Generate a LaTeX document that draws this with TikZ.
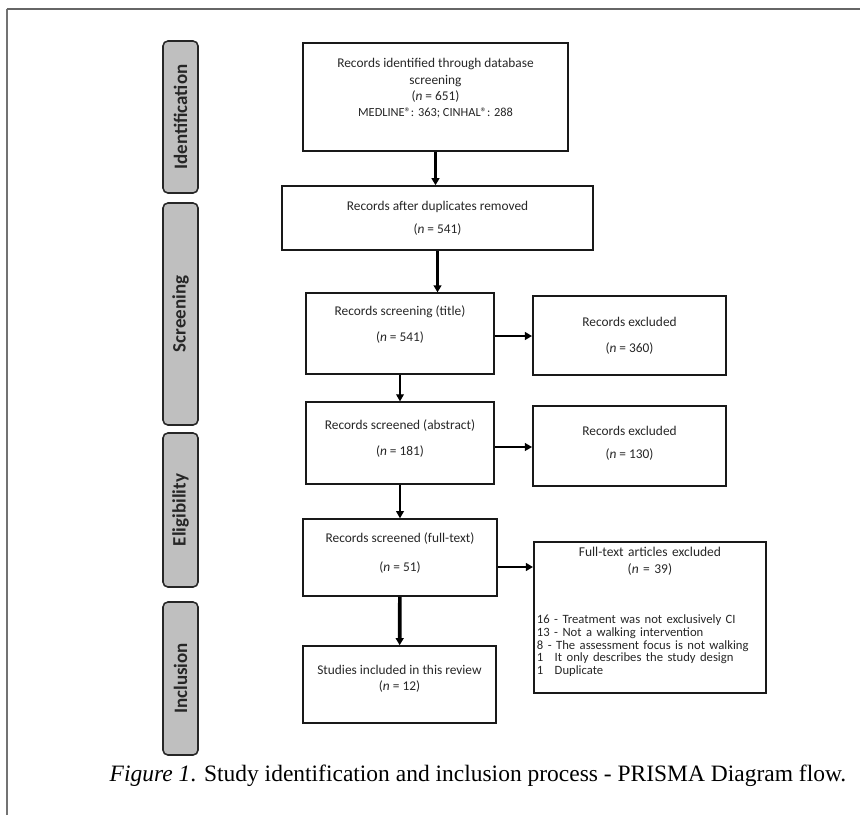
\documentclass[tikz,border=0pt]{standalone}
\usepackage{fontspec}
\setmainfont{Carlito}
\newfontfamily\capfont{Liberation Serif}
\usetikzlibrary{arrows.meta,calc}

\begin{document}
\begin{tikzpicture}[x=0.025cm,y=-0.025cm,
  box/.style={draw=black!90,line width=1.1pt,align=center,inner sep=2pt,text=black!85,font=\fontsize{9.5}{11.5}\selectfont},
  phase/.style={draw=black!85,line width=1.1pt,fill=black!25,rounded corners=3.5pt,rotate=90,
    minimum height=35*\pxunit,text=black!85,font=\bfseries\fontsize{13.5}{15}\selectfont},
  flow/.style={-{Triangle[length=5pt,width=5.5pt]},line width=1.4pt}]

\newcommand{\pxunit}{0.025cm}
\newcommand{\gapline}{\\[7pt]}

\useasboundingbox (0,0) rectangle (860,815);

% frame round the figure
\draw[black!55,line width=0.8pt] (7,815) -- (7,9);
\draw[black!60,line width=1.4pt] (6.5,9) -- (860,9);

% phases
\node[phase,minimum width=152*\pxunit] (identification) at (180.5,117) {Identification};
\node[phase,minimum width=222*\pxunit] (screening) at (180.5,314) {Screening};
\node[phase,minimum width=154*\pxunit] (eligibility) at (180.5,510) {Eligibility};
\node[phase,minimum width=153*\pxunit] (inclusion) at (180.5,678.5) {Inclusion};

% main column
\node[box,line width=0.9pt,minimum width=265*\pxunit,minimum height=108*\pxunit] (identified) at (435.5,97)
  {Records identified through database\\ screening\\ (\textit{n} = 651)\\
   {\fontsize{8.8}{10}\selectfont MEDLINE®: 363; CINHAL®: 288}\\[2pt]};

\node[box,minimum width=311*\pxunit,minimum height=64*\pxunit] (duplicates) at (437.5,218)
  {Records after duplicates removed\\[5pt] (\textit{n} = 541)};

\node[box,line width=0.9pt,minimum width=188*\pxunit,minimum height=81*\pxunit] (title) at (400,333.5)
  {Records screening (title)\gapline (\textit{n} = 541)\\[3pt]};

\node[box,line width=0.9pt,minimum width=188*\pxunit,minimum height=82*\pxunit] (abstract) at (400,443)
  {Records screened (abstract)\gapline (\textit{n} = 181)\\[-4pt]};

\node[box,minimum width=194*\pxunit,minimum height=77*\pxunit] (fulltext) at (400,557.5)
  {Records screened (full-text)\\[9pt] (\textit{n} = 51)\\[-4pt]};

\node[box,minimum width=193*\pxunit,minimum height=77*\pxunit] (included) at (399.5,684.5)
  {Studies included in this review\\ (\textit{n} = 12)\\[-1.5pt]};

% excluded column
\node[box,line width=1.4pt,minimum width=193*\pxunit,minimum height=79*\pxunit] (excluded1) at (629.5,335.5)
  {Records excluded\gapline (\textit{n} = 360)};

\node[box,line width=1.4pt,minimum width=193*\pxunit,minimum height=80*\pxunit] (excluded2) at (629.5,446)
  {Records excluded\\[5pt] (\textit{n} = 130)\\[-6pt]};

\node[box,line width=1.2pt,text width=226*\pxunit,align=left,inner sep=2.2pt,minimum height=151*\pxunit,anchor=north west] (excluded3) at (533,541)
  {{\centering\fontsize{9.6}{12}\selectfont Full-text articles excluded\\ (\textit{n} = 39)\par}
   \vspace{27pt}
   {\raggedright\fontsize{9}{9}\selectfont
   16 - Treatment was not exclusively CI\\
   13 - Not a walking intervention\\
   8 - The assessment focus is not walking\\
   1\hspace{0.9em}It only describes the study design\\
   1\hspace{0.9em}Duplicate\par}
   \vspace{8pt}};

% connectors
\draw[flow,line width=1.8pt] (identified) -- (identified.south |- duplicates.north);
\draw[flow,line width=1.8pt] (duplicates) -- (duplicates.south |- title.north);
\draw[flow,line width=0.8pt] (title) -- (abstract);
\draw[flow,line width=0.8pt] (abstract) -- (fulltext);
\draw[flow,line width=2.6pt] (fulltext) -- (included);

\draw[flow] ($(title.east)+(0,2.5)$) coordinate (t1) -- (t1 -| excluded1.west);
\draw[flow,line width=1pt] ($(abstract.east)+(0,4)$) coordinate (a1) -- (a1 -| excluded2.west);
\draw[flow] ($(fulltext.east)+(0,9.5)$) coordinate (f1) -- (f1 -| excluded3.west);

%\draw[red] (303,43) rectangle (568,151);

% caption
\node[font=\capfont\fontsize{16.7}{20}\selectfont] (caption) at (478,776)
  {\textit{Figure 1}. Study identification and inclusion process - PRISMA Diagram flow.};

\end{tikzpicture}
\end{document}
